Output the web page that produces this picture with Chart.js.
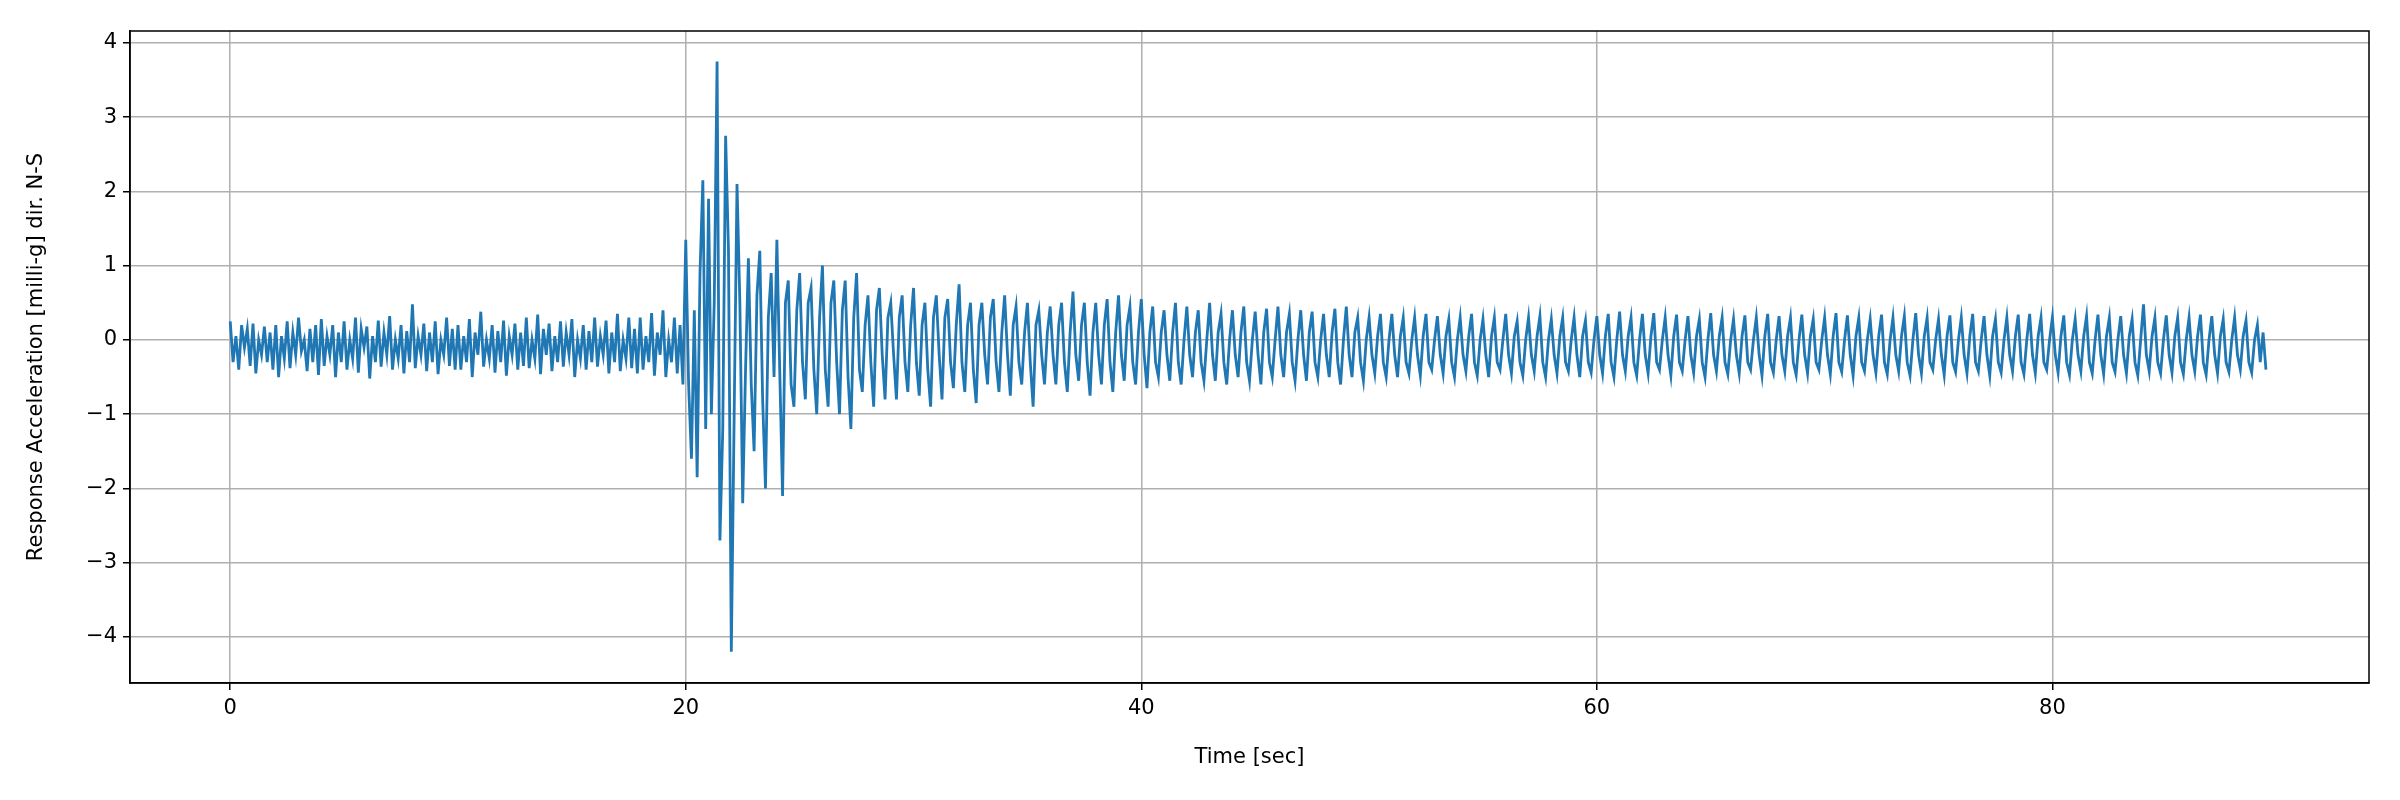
<!DOCTYPE html>
<html><head><meta charset="utf-8">
<script src="https://cdn.jsdelivr.net/npm/chart.js@4/dist/chart.umd.min.js"></script>
<style>body{margin:0;background:#fff}</style></head>
<body><canvas id="c" width="2400" height="800"></canvas>
<script>
const sampleStep = 0.125; // seconds between samples
const accel = [
0.25,-0.3,0.05,-0.4,0.2,-0.1,0.15,-0.35, 0.22,-0.45,0.0,-0.2,0.18,-0.3,0.1,-0.4, 0.2,-0.5,0.05,-0.25,0.25,-0.38,0.1,-0.2,
0.3,-0.15,0.0,-0.42,0.15,-0.3,0.2,-0.47, 0.28,-0.35,0.05,-0.2,0.2,-0.5,0.1,-0.3, 0.25,-0.4,0.0,-0.25,0.3,-0.44,0.15,-0.1,
0.18,-0.52,0.05,-0.3,0.26,-0.36,0.1,-0.2, 0.32,-0.4,0.0,-0.25,0.2,-0.45,0.12,-0.3, 0.48,-0.38,0.05,-0.2,0.22,-0.42,0.1,-0.3,
0.25,-0.46,0.0,-0.2,0.3,-0.35,0.15,-0.4, 0.2,-0.4,0.05,-0.3,0.28,-0.5,0.1,-0.2, 0.38,-0.36,0.0,-0.25,0.2,-0.44,0.12,-0.3,
0.26,-0.48,0.05,-0.2,0.22,-0.4,0.1,-0.35, 0.3,-0.38,0.0,-0.25,0.34,-0.46,0.15,-0.2, 0.22,-0.42,0.05,-0.3,0.25,-0.36,0.1,-0.2,
0.28,-0.5,0.0,-0.25,0.2,-0.4,0.12,-0.3, 0.3,-0.36,0.05,-0.2,0.26,-0.45,0.1,-0.3, 0.35,-0.42,0.0,-0.25,0.3,-0.38,0.15,-0.45,
0.3,-0.4,0.05,-0.3,0.36,-0.48,0.1,-0.2, 0.4,-0.5,0.0,-0.3,0.3,-0.45,0.2,-0.6,
1.35,-0.6,-1.6,0.4,-1.85,0.9,2.15,-1.2, 1.9,-1.0,0.5,3.75,-2.7,-1.2,2.75,1.2, -4.2,-1.0,2.1,0.5,-2.2,-0.4,1.1,-0.6,
-1.5,0.6,1.2,-0.8,-2.0,0.3,0.9,-0.5, 1.35,-0.4,-2.1,0.5,0.8,-0.6,-0.9,0.4, 0.9,-0.3,-0.8,0.5,0.7,-0.4,-1.0,0.3,
1.0,-0.4,-0.9,0.5,0.8,-0.3,-1.0,0.4, 0.8,-0.5,-1.2,0.3,0.9,-0.4,-0.7,0.2, 0.6,-0.3,-0.9,0.4,0.7,-0.2,-0.8,0.3,
0.5,-0.2,-0.8,0.3,0.6,-0.3,-0.7,0.2, 0.7,-0.3,-0.75,0.2,0.5,-0.4,-0.9,0.3, 0.6,-0.2,-0.8,0.3,0.55,-0.3,-0.65,0.2,
0.75,-0.3,-0.7,0.2,0.5,-0.4,-0.85,0.2, 0.5,-0.2,-0.6,0.3,0.55,-0.3,-0.7,0.1, 0.6,-0.2,-0.75,0.2,0.45,-0.3,-0.6,0.1,
0.5,-0.3,-0.9,0.2,0.4,-0.2,-0.6,0.1, 0.45,-0.2,-0.6,0.2,0.5,-0.3,-0.7,0.1, 0.65,-0.2,-0.55,0.2,0.5,-0.3,-0.75,0.1,
0.5,-0.2,-0.6,0.2,0.55,-0.3,-0.7,0.1, 0.6,-0.2,-0.55,0.2,0.45,-0.3,-0.6,0.1, 0.55,-0.2,-0.65,0.1,0.45,-0.3,-0.5,0.1,
0.4,-0.2,-0.55,0.1,0.5,-0.3,-0.6,0.0, 0.45,-0.2,-0.5,0.1,0.4,-0.3,-0.55,0.0, 0.5,-0.2,-0.55,0.1,0.35,-0.3,-0.6,0.0,
0.4,-0.2,-0.5,0.1,0.45,-0.3,-0.55,0.0, 0.38,-0.2,-0.6,0.1,0.42,-0.3,-0.5,0.0, 0.45,-0.2,-0.5,0.1,0.35,-0.3,-0.55,0.0,
0.4,-0.2,-0.55,0.1,0.38,-0.3,-0.5,0.0, 0.35,-0.2,-0.5,0.1,0.42,-0.3,-0.6,0.0, 0.45,-0.2,-0.5,0.1,0.3,-0.3,-0.55,0.0,
0.3,-0.2,-0.45,0.05,0.35,-0.3,-0.5,0.0, 0.35,-0.2,-0.5,0.05,0.3,-0.3,-0.45,0.0, 0.3,-0.2,-0.48,0.05,0.35,-0.3,-0.4,0.0,
0.32,-0.2,-0.45,0.05,0.28,-0.3,-0.5,0.0, 0.3,-0.2,-0.42,0.05,0.35,-0.3,-0.48,0.0, 0.28,-0.2,-0.5,0.05,0.3,-0.3,-0.4,0.0,
0.35,-0.2,-0.45,0.05,0.25,-0.3,-0.48,0.0, 0.3,-0.2,-0.42,0.05,0.32,-0.3,-0.5,0.0, 0.28,-0.2,-0.45,0.05,0.3,-0.3,-0.42,0.0,
0.3,-0.2,-0.5,0.05,0.26,-0.3,-0.44,0.0, 0.32,-0.2,-0.45,0.05,0.35,-0.3,-0.5,0.0, 0.38,-0.2,-0.42,0.05,0.3,-0.3,-0.48,0.0,
0.35,-0.2,-0.45,0.05,0.36,-0.3,-0.4,0.0, 0.3,-0.2,-0.48,0.05,0.34,-0.3,-0.42,0.0, 0.32,-0.2,-0.44,0.05,0.28,-0.3,-0.5,0.0,
0.36,-0.2,-0.42,0.05,0.3,-0.3,-0.46,0.0, 0.28,-0.2,-0.45,0.05,0.33,-0.3,-0.4,0.0, 0.3,-0.2,-0.48,0.05,0.35,-0.3,-0.44,0.0,
0.32,-0.2,-0.42,0.05,0.3,-0.3,-0.47,0.0, 0.34,-0.2,-0.45,0.05,0.28,-0.3,-0.4,0.0, 0.3,-0.2,-0.46,0.05,0.36,-0.3,-0.43,0.0,
0.33,-0.2,-0.48,0.05,0.3,-0.3,-0.42,0.0, 0.28,-0.2,-0.44,0.05,0.34,-0.3,-0.46,0.0, 0.3,-0.2,-0.42,0.05,0.32,-0.3,-0.48,0.0,
0.36,-0.2,-0.45,0.05,0.3,-0.3,-0.4,0.0, 0.28,-0.2,-0.47,0.05,0.33,-0.3,-0.43,0.0, 0.3,-0.2,-0.45,0.05,0.35,-0.3,-0.42,0.0,
0.32,-0.2,-0.48,0.05,0.28,-0.3,-0.44,0.0, 0.3,-0.2,-0.42,0.05,0.34,-0.3,-0.46,0.0, 0.35,-0.2,-0.45,0.05,0.3,-0.3,-0.4,0.0,
0.3,-0.2,-0.44,0.05,0.33,-0.3,-0.47,0.0, 0.28,-0.2,-0.42,0.05,0.32,-0.3,-0.45,0.0, 0.34,-0.2,-0.46,0.05,0.3,-0.3,-0.43,0.0,
0.32,-0.2,-0.45,0.05,0.28,-0.3,-0.48,0.0, 0.48,-0.2,-0.42,0.05,0.3,-0.3,-0.45,0.0, 0.33,-0.2,-0.44,0.05,0.3,-0.3,-0.46,0.0,
0.3,-0.2,-0.42,0.05,0.34,-0.3,-0.47,0.0, 0.32,-0.2,-0.45,0.05,0.28,-0.3,-0.43,0.0, 0.3,-0.2,-0.4,0.05,0.26,-0.3,-0.44,0.0,
0.2,-0.3,0.1,-0.4
];
const xTicks = [0,20,40,60,80];
const yTicks = [-4,-3,-2,-1,0,1,2,3,4];
const xLabel = 'Time [sec]';
const yLabel = 'Response Acceleration [milli-g] dir. N-S';

const pts = accel.map((v,i)=>({x:i*sampleStep,y:v}));
const frame = {id:'frame',afterDraw(c){const a=c.chartArea,g=c.ctx;g.save();g.strokeStyle='#000';g.lineWidth=1.5;g.strokeRect(a.left,a.top,a.right-a.left,a.bottom-a.top);g.restore();}};
const fmt = v => String(v).replace('-','\u2212');
Chart.defaults.font.family = 'DejaVu Sans';
Chart.defaults.font.size = 21;
Chart.defaults.color = '#000';
new Chart(document.getElementById('c'),{
 type:'line',
 data:{datasets:[{data:pts,borderColor:'#1f77b4',borderWidth:2.8,pointRadius:0,tension:0}]},
 options:{responsive:false,animation:false,
  layout:{padding:{top:31,right:31,left:24,bottom:30}},
  plugins:{legend:{display:false},tooltip:{enabled:false}},
  scales:{
   x:{type:'linear',min:-4.4,max:93.9,
      afterBuildTicks:s=>{s.ticks=xTicks.map(v=>({value:v}));},
      afterFit:s=>{s.height=87;},
      ticks:{callback:fmt,maxRotation:0,padding:6},
      grid:{color:'#b0b0b0',lineWidth:1.5,tickColor:'#000',tickLength:7},
      border:{color:'#000',width:1.5},
      title:{display:true,text:xLabel,padding:{top:4,bottom:0}}},
   y:{min:-4.62,max:4.16,
      afterBuildTicks:s=>{s.ticks=yTicks.map(v=>({value:v}));},
      afterFit:s=>{s.width=106;},
      ticks:{callback:fmt,padding:6},
      grid:{color:'#b0b0b0',lineWidth:1.5,tickColor:'#000',tickLength:7},
      border:{color:'#000',width:1.5},
      title:{display:true,text:yLabel,padding:{bottom:4,top:0}}}
  }},
 plugins:[frame]
});
</script></body></html>
